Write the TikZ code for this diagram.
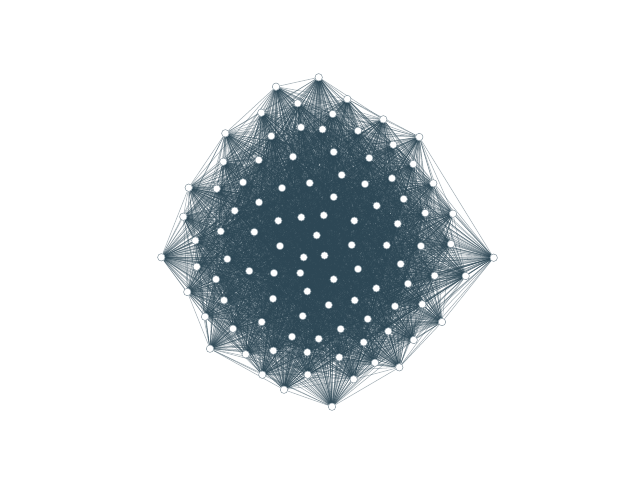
\documentclass[tikz,border=0pt]{standalone}
\usetikzlibrary{backgrounds}
\definecolor{edgec}{HTML}{2C4654}
\definecolor{nodeb}{HTML}{7F8F99}
\tikzset{
  vtx/.style={circle,fill=white,draw=nodeb,line width=0.35pt,inner sep=0pt,minimum size=5.6pt},
  lnk/.style={draw=edgec,line width=0.4pt,draw opacity=0.42}
}
\begin{document}
\begin{tikzpicture}[x=0.75pt,y=-0.75pt]
\useasboundingbox (0,0) rectangle (640,480);
\foreach \n/\x/\y in {
1/318.7/77.3, 2/276/86.7, 3/297.7/103.3, 4/261.3/112.7, 5/301/127.3,
6/322.5/129.3, 7/225.3/133.3, 8/271.3/136, 9/223.3/161.7, 10/258.7/160,
11/293/156.7, 12/188.7/187.7, 13/216.7/188.7, 14/243/182.3, 15/282/188,
16/309.7/183, 17/183.3/216.7, 18/234.7/210.7, 19/259/202.3, 20/278.3/220.7,
21/301.3/217.3, 22/323.8/215.3, 23/220.7/231.3, 24/254.3/232, 25/316.7/235.3,
26/195.3/240.5, 27/347.3/99, 28/332.7/114, 29/383.3/119.3, 30/358/130.7,
31/419.3/137, 32/393.3/144.7, 33/333.7/152, 34/369.3/158, 35/413.3/164,
36/433.3/183.3, 37/341.7/175, 38/392/178.3, 39/365/184, 40/333.7/197,
41/403.7/199, 42/376.7/205.7, 43/453/213.7, 44/425.3/213, 45/354.3/220.7,
46/397.7/223.7, 47/161.3/257.3, 48/280/246, 49/196.7/266.7, 50/227.3/259,
51/303.7/257.3, 52/324.5/255.5, 53/249.3/271, 54/274/273, 55/300.3/273,
56/216/279.3, 57/187.3/292, 58/307.3/291.3, 59/224/300.3, 60/273/298.7,
61/205/316.7, 62/302.7/316, 63/261.7/322, 64/233/328.7, 65/292/336.7,
66/318.7/338.8, 67/210/348.7, 68/245.7/354.3, 69/273.3/350.7, 70/307.3/352.3,
71/262.3/374.7, 72/307.7/374.7, 73/284/389.7, 74/351.7/245, 75/386.7/245.3,
76/421/246, 77/451/244, 78/493.7/257.7, 79/465.7/276, 80/434.7/275.7,
81/400.7/264, 82/358/269, 83/333.7/279.3, 84/408/283.7, 85/376.3/288.3,
86/328.7/305, 87/354.7/300.3, 88/395/306.3, 89/422.3/304.3, 90/442/322,
91/367.7/319, 92/340.7/329, 93/388.3/331.3, 94/413.7/340, 95/363.7/342.3,
96/339.3/357.3, 97/375/362.7, 98/399.3/367.3, 99/353.7/379.3, 100/332/406.7}
  \node[vtx] (v\n) at (\x,\y) {};
\begin{pgfonlayer}{background}
\pgfmathsetseed{4242}
\foreach \i in {1,...,99}{
  \pgfmathtruncatemacro{\s}{\i+1}
  \foreach \j in {\s,...,100}{
    \pgfmathtruncatemacro{\keep}{rnd<0.85 ? 1 : 0}
    \ifnum\keep=1 \draw[lnk] (v\i) -- (v\j); \fi
  }
}
\end{pgfonlayer}
\end{tikzpicture}
\end{document}
